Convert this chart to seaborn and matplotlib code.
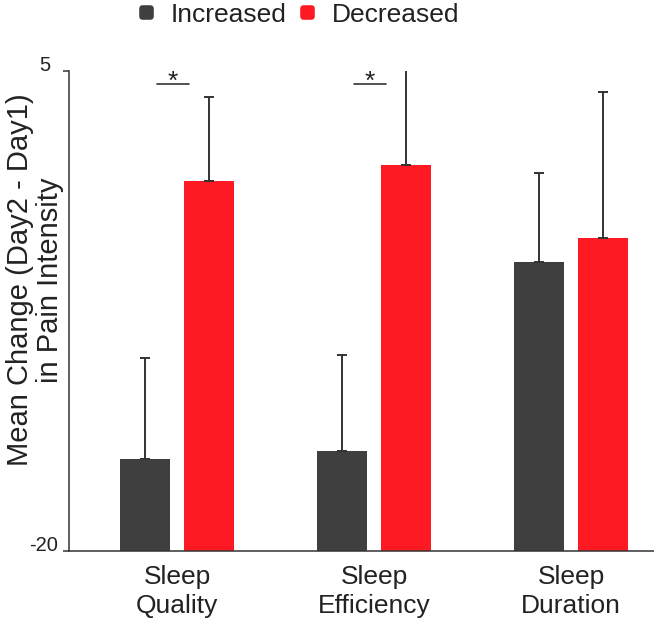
import numpy as np
import pandas as pd
import matplotlib
matplotlib.use("Agg")
import matplotlib.pyplot as plt
import seaborn as sns
from matplotlib.lines import Line2D
from matplotlib.patches import BoxStyle
from matplotlib.transforms import ScaledTranslation

# ---- data ----
categories = ["Sleep\nQuality", "Sleep\nEfficiency", "Sleep\nDuration"]
groups = ["Increased", "Decreased"]
increased_mean = [-15.2, -14.8, -4.97]
decreased_mean = [-0.75, 0.1, -3.68]
increased_err = [5.25, 5.0, 4.64]
decreased_err = [4.38, 5.06, 7.58]
ytick_values = [-20, 5]
ytick_labels = ["-20", "5"]
significant = [True, True, False]
baseline = -20

colors = {"Increased": "#3f3f3f", "Decreased": "#fe1a23"}
text_color = "#222222"

df = pd.DataFrame({
    "category": categories * 2,
    "group": [groups[0]] * 3 + [groups[1]] * 3,
    "mean": increased_mean + decreased_mean,
})
df["height"] = df["mean"] - baseline

sns.set_theme(style="white")
plt.rcParams["font.family"] = ["Liberation Sans", "DejaVu Sans"]
plt.rcParams["text.color"] = text_color

fig = plt.figure(figsize=(6.54, 6.27), dpi=100)
ax = fig.add_axes([69 / 654, 76 / 627, 1 - 69 / 654, 480 / 627])

sns.barplot(data=df, x="category", y="height", hue="group", order=categories,
            hue_order=groups, palette=colors, width=0.65, gap=0.21,
            errorbar=None, legend=False, bottom=baseline, ax=ax,
            linewidth=0, saturation=1)

errs = {"Increased": increased_err, "Decreased": decreased_err}
for cont, g in zip(ax.containers, groups):
    xs = [b.get_x() + b.get_width() / 2 for b in cont]
    tops = [b.get_y() + b.get_height() for b in cont]
    e = errs[g]
    ax.errorbar(xs, tops, yerr=[np.zeros(len(e)), e], fmt="none",
                ecolor="#333333", elinewidth=1.4, capsize=3.5, capthick=1.4,
                zorder=1)

# significance markers
for i, sig in enumerate(significant):
    if sig:
        xc = i - 0.02
        ax.plot([xc - 0.08, xc + 0.08], [4.31, 4.31], color="#333333", lw=1.2,
                clip_on=False)
        ax.text(xc, 4.05, "*", ha="center", va="baseline", fontsize=19,
                color=text_color)

ax.set_xlim(-0.548, 2.421)
ax.set_ylim(-20, 5)
ax.set_yticks(ytick_values)
ax.set_yticklabels(ytick_labels)
ax.tick_params(axis="y", length=4.5, width=1.1, color="#333333", pad=3.5,
               labelsize=14.5, labelcolor=text_color, left=True)
ax.tick_params(axis="x", length=0, pad=10, labelsize=19, labelcolor=text_color)
for lbl in ax.get_yticklabels():
    lbl.set_va("baseline")
ylabels = ax.get_yticklabels()
ylabels[1].set_transform(ylabels[1].get_transform() +
                         ScaledTranslation(-0.08, 0, fig.dpi_scale_trans))
ax.set_xticks(range(len(categories)))
ax.set_xticklabels(categories, linespacing=1.28)
ax.set_xlabel("")
ax.set_ylabel("Mean Change (Day2 - Day1)\nin Pain Intensity", fontsize=21,
              color=text_color, linespacing=1.1)
ax.yaxis.set_label_coords(-0.008, 0.565)

sns.despine(ax=ax)
for s in ["left", "bottom"]:
    ax.spines[s].set_color("#333333")
    ax.spines[s].set_linewidth(1.1)

# legend with rounded square markers
rs = BoxStyle.Round(pad=0, rounding_size=0.25)(-0.5, -0.5, 1, 1, 1)
handles = [Line2D([], [], marker=rs, linestyle="none", markersize=10.5,
                  markerfacecolor=colors[g], markeredgewidth=0) for g in groups]
fig.legend(handles, groups, loc="upper center", bbox_to_anchor=(298 / 654, 1.0),
           ncol=2, frameon=False, fontsize=19, handlelength=0.7,
           handletextpad=0.56, columnspacing=0.45, borderaxespad=0.0,
           borderpad=0.1)

fig.savefig("out.png", dpi=100)
